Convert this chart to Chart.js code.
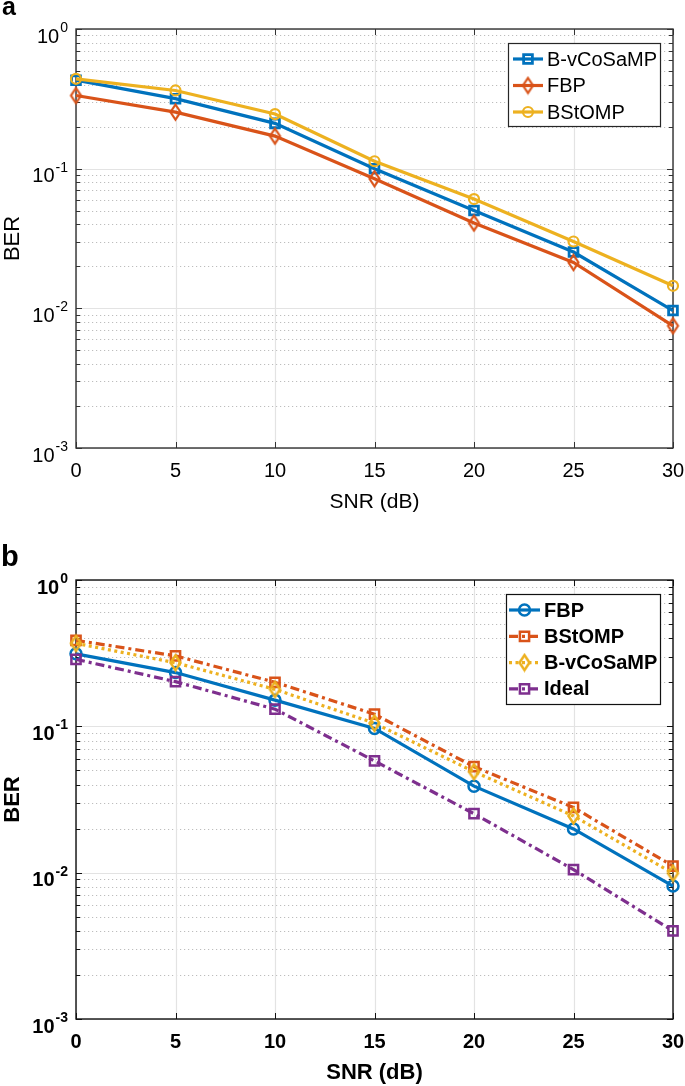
<!DOCTYPE html>
<html>
<head>
<meta charset="utf-8">
<script src="https://cdn.jsdelivr.net/npm/chart.js@4.4.1/dist/chart.umd.min.js"></script>
<style>
  body { margin: 0; background: #fff; width: 685px; height: 1086px; overflow: hidden; position: relative; font-family: "Liberation Sans", Arial, sans-serif; }
  .panel { position: absolute; left: 0; }
  .panel canvas { display: block; }
  .tag { position: absolute; font-weight: bold; color: #000; line-height: 1; }
</style>
</head>
<body>
<div class="panel" style="top:0"><canvas id="chartA" width="685" height="520"></canvas></div>
<div class="panel" style="top:520px"><canvas id="chartB" width="685" height="566"></canvas></div>
<div class="tag" style="left:2px; top:-6px; font-size:25px;">a</div>
<div class="tag" style="left:1px; top:542px; font-size:29px;">b</div>
<script>
// SNR axis
const snr = [0, 5, 10, 15, 20, 25, 30];
const xTicks = [0, 5, 10, 15, 20, 25, 30];

// BER decades and their exponent labels
const yDecades = [1, 0.1, 0.01, 0.001];
const yExponents = ['0', '-1', '-2', '-3'];

// panel a
const berA_vCoSaMP = [0.43, 0.317, 0.211, 0.100, 0.0502, 0.0253, 0.00964];
const berA_FBP = [0.334, 0.254, 0.171, 0.0847, 0.0408, 0.0213, 0.0075];
const berA_BStOMP = [0.44, 0.363, 0.246, 0.113, 0.0606, 0.0301, 0.0145];

// panel b
const berB_FBP = [0.313, 0.233, 0.151, 0.0968, 0.039, 0.0199, 0.0081];
const berB_BStOMP = [0.387, 0.303, 0.200, 0.121, 0.053, 0.0279, 0.0111];
const berB_vCoSaMP = [0.369, 0.272, 0.179, 0.105, 0.049, 0.0244, 0.0099];
const berB_Ideal = [0.287, 0.202, 0.131, 0.058, 0.0253, 0.0105, 0.0040];

const BLUE = '#0072BD', ORANGE = '#D95319', YELLOW = '#EDB120', PURPLE = '#7E2F8E';
const FONT = '"Liberation Sans", Arial, Helvetica, sans-serif';
Chart.defaults.font.family = FONT;

// minor log grid values 2..9 x 10^k
const yMinor = [];
yDecades.slice(1).forEach(d => {
  for (let k = 2; k <= 9; k++) yMinor.push(k * d);
});

// tall matlab-like diamond marker
function diamond(color, w, h, lw) {
  const c = document.createElement('canvas');
  c.width = Math.ceil(w + lw * 2);
  c.height = Math.ceil(h + lw * 2);
  const g = c.getContext('2d');
  const cx = c.width / 2, cy = c.height / 2;
  g.strokeStyle = color;
  g.lineWidth = lw;
  g.lineJoin = 'miter';
  g.beginPath();
  g.moveTo(cx, cy - h / 2);
  g.lineTo(cx + w / 2, cy);
  g.lineTo(cx, cy + h / 2);
  g.lineTo(cx - w / 2, cy);
  g.closePath();
  g.stroke();
  return c;
}

function drawMarker(ctx, ds, x, y) {
  const st = ds.pointStyle, r = ds.pointRadius;
  if (st instanceof HTMLCanvasElement) {
    ctx.drawImage(st, x - st.width / 2, y - st.height / 2);
    return;
  }
  ctx.strokeStyle = ds.borderColor;
  ctx.lineWidth = ds.pointBorderWidth;
  ctx.beginPath();
  if (st === 'circle') {
    ctx.arc(x, y, r, 0, Math.PI * 2);
  } else {
    const s = Math.SQRT1_2 * r;
    ctx.rect(x - s, y - s, 2 * s, 2 * s);
  }
  ctx.stroke();
}

// grid, box and tick marks in matlab style
const matlabAxes = {
  id: 'matlabAxes',
  beforeDatasetsDraw(chart, args, o) {
    const { ctx, chartArea: a } = chart;
    const xs = chart.scales.x, ys = chart.scales.y;
    ctx.save();
    ctx.lineWidth = 1;
    ctx.strokeStyle = o.minorGrid;
    ctx.setLineDash([1.2, 2.8]);
    yMinor.forEach(v => {
      const py = Math.round(ys.getPixelForValue(v)) + 0.5;
      ctx.beginPath(); ctx.moveTo(a.left, py); ctx.lineTo(a.right, py); ctx.stroke();
    });
    ctx.setLineDash([]);
    ctx.strokeStyle = o.majorGrid;
    ctx.lineWidth = 1.2;
    xTicks.forEach(v => {
      const px = Math.round(xs.getPixelForValue(v)) + 0.5;
      ctx.beginPath(); ctx.moveTo(px, a.top); ctx.lineTo(px, a.bottom); ctx.stroke();
    });
    yDecades.forEach(v => {
      const py = Math.round(ys.getPixelForValue(v)) + 0.5;
      ctx.beginPath(); ctx.moveTo(a.left, py); ctx.lineTo(a.right, py); ctx.stroke();
    });
    // ticks
    ctx.strokeStyle = o.frame;
    ctx.lineWidth = 1;
    xTicks.forEach(v => {
      const px = Math.round(xs.getPixelForValue(v)) + 0.5;
      ctx.beginPath();
      ctx.moveTo(px, a.bottom); ctx.lineTo(px, a.bottom - 6);
      ctx.moveTo(px, a.top); ctx.lineTo(px, a.top + 6);
      ctx.stroke();
    });
    yDecades.concat(yMinor).forEach(v => {
      const py = Math.round(ys.getPixelForValue(v)) + 0.5;
      const len = yDecades.includes(v) ? 6 : 4;
      ctx.beginPath();
      ctx.moveTo(a.left, py); ctx.lineTo(a.left + len, py);
      ctx.moveTo(a.right, py); ctx.lineTo(a.right - len, py);
      ctx.stroke();
    });
    // box
    ctx.lineWidth = o.frameWidth;
    ctx.strokeRect(a.left, a.top, a.right - a.left, a.bottom - a.top);
    ctx.restore();
  },
  afterDraw(chart, args, o) {
    // y tick labels 10^k
    const { ctx, chartArea: a } = chart;
    const ys = chart.scales.y;
    ctx.save();
    ctx.fillStyle = '#000';
    ctx.textAlign = 'right';
    ctx.textBaseline = 'alphabetic';
    yDecades.forEach((v, i) => {
      const py = ys.getPixelForValue(v);
      const right = a.left - 8;
      ctx.font = o.weight + ' 14px ' + FONT;
      const ew = ctx.measureText(yExponents[i]).width;
      ctx.fillText(yExponents[i], right, py + 3);
      ctx.font = o.weight + ' 20px ' + FONT;
      ctx.fillText('10', right - ew - 1, py + 13.5);
    });
    ctx.restore();
  }
};

// boxed legend with line + marker samples
const boxLegend = {
  id: 'boxLegend',
  afterDatasetsDraw(chart, args, o) {
    const ctx = chart.ctx;
    ctx.save();
    ctx.fillStyle = '#fff';
    ctx.fillRect(o.x, o.y, o.w, o.h);
    ctx.strokeStyle = o.border;
    ctx.lineWidth = 1.2;
    ctx.strokeRect(o.x + 0.5, o.y + 0.5, o.w, o.h);
    chart.data.datasets.forEach((ds, i) => {
      const cy = o.y + o.first + i * o.gap;
      const x0 = o.x + o.lineFrom, x1 = o.x + o.lineTo;
      ctx.strokeStyle = ds.borderColor;
      ctx.lineWidth = ds.borderWidth;
      ctx.setLineDash(ds.borderDash || []);
      ctx.beginPath(); ctx.moveTo(x0, cy); ctx.lineTo(x1, cy); ctx.stroke();
      ctx.setLineDash([]);
      drawMarker(ctx, ds, (x0 + x1) / 2, cy);
      ctx.fillStyle = '#000';
      ctx.font = o.weight + ' 20px ' + FONT;
      ctx.textAlign = 'left';
      ctx.textBaseline = 'middle';
      ctx.fillText(ds.label, o.x + o.textX, cy + 1);
    });
    ctx.restore();
  }
};

function makeOptions(bold, padTop, xHeight, xTitlePad, legend, frame) {
  const w = bold ? 'bold' : 'normal';
  return {
    responsive: false,
    animation: false,
    devicePixelRatio: 1,
    events: [],
    layout: { padding: { top: padTop, right: 12, left: 0, bottom: 0 } },
    elements: { line: { tension: 0 } },
    plugins: {
      legend: { display: false },
      tooltip: { enabled: false },
      matlabAxes: { minorGrid: '#bdbdbd', majorGrid: '#e3e3e3', frame: frame, frameWidth: 1.4, weight: w },
      boxLegend: legend
    },
    scales: {
      x: {
        type: 'linear',
        min: 0,
        max: 30,
        grid: { display: false, drawTicks: false },
        border: { display: false },
        ticks: { stepSize: 5, color: '#000', padding: 11, maxRotation: 0, autoSkip: false,
          font: { size: 20, weight: w } },
        title: { display: true, text: 'SNR (dB)', color: '#000',
          font: { size: bold ? 22 : 21, weight: w }, padding: { top: 0, bottom: xTitlePad } },
        afterFit: s => {
          s.height = xHeight;
          // let the "30" label hang over the right padding instead of shrinking the plot
          s.paddingLeft = 0;
          s.paddingRight = 0;
        }
      },
      y: {
        type: 'logarithmic',
        min: 0.001,
        max: 1,
        grid: { display: false, drawTicks: false },
        border: { display: false },
        ticks: { display: false },
        title: { display: true, text: 'BER', color: '#000',
          font: { size: 22, weight: w }, padding: { top: 0, bottom: 0 } },
        afterFit: s => { s.width = 76; }
      }
    }
  };
}

function series(label, data, color, extra) {
  return Object.assign({
    label: label,
    data: data,
    borderColor: color,
    backgroundColor: 'rgba(0,0,0,0)',
    pointBackgroundColor: 'rgba(0,0,0,0)',
    pointBorderColor: color,
    borderWidth: 3.2,
    pointBorderWidth: 2.2,
    clip: false
  }, extra);
}

function pairs(ys) {
  return snr.map((x, i) => ({ x: x, y: ys[i] }));
}

new Chart(document.getElementById('chartA'), {
  type: 'line',
  data: {
    datasets: [
      series('B-vCoSaMP', pairs(berA_vCoSaMP), BLUE, { pointStyle: 'rect', pointRadius: 6.2, pointBorderWidth: 2.8, order: 2 }),
      series('FBP', pairs(berA_FBP), ORANGE, { pointStyle: diamond(ORANGE, 10, 15, 2.2), pointRadius: 7, order: 1 }),
      series('BStOMP', pairs(berA_BStOMP), YELLOW, { pointStyle: 'circle', pointRadius: 5, order: 0 })
    ]
  },
  options: makeOptions(false, 29, 72, 5,
    { x: 508, y: 43, w: 152, h: 83, first: 16, gap: 26.5, lineFrom: 5, lineTo: 35, textX: 39, border: '#262626', weight: 'normal' },
    '#333'),
  plugins: [matlabAxes, boxLegend]
});

new Chart(document.getElementById('chartB'), {
  type: 'line',
  data: {
    datasets: [
      series('FBP', pairs(berB_FBP), BLUE, { pointStyle: 'circle', pointRadius: 5.5, pointBorderWidth: 2.5, order: 3 }),
      series('BStOMP', pairs(berB_BStOMP), ORANGE, { borderDash: [9, 4, 3, 4], pointStyle: 'rect', pointRadius: 6.5, pointBorderWidth: 2.5, order: 2 }),
      series('B-vCoSaMP', pairs(berB_vCoSaMP), YELLOW, { borderDash: [3, 3.5], pointStyle: diamond(YELLOW, 10, 15, 2.5), pointRadius: 7, order: 1 }),
      series('Ideal', pairs(berB_Ideal), PURPLE, { borderDash: [9, 4, 3, 4], pointStyle: 'rect', pointRadius: 6.5, pointBorderWidth: 2.5, order: 0 })
    ]
  },
  options: makeOptions(true, 60, 67, 0,
    { x: 506, y: 74, w: 154, h: 110, first: 16, gap: 26.3, lineFrom: 3, lineTo: 34, textX: 38, border: '#111', weight: 'bold' },
    '#111'),
  plugins: [matlabAxes, boxLegend]
});
</script>
</body>
</html>
